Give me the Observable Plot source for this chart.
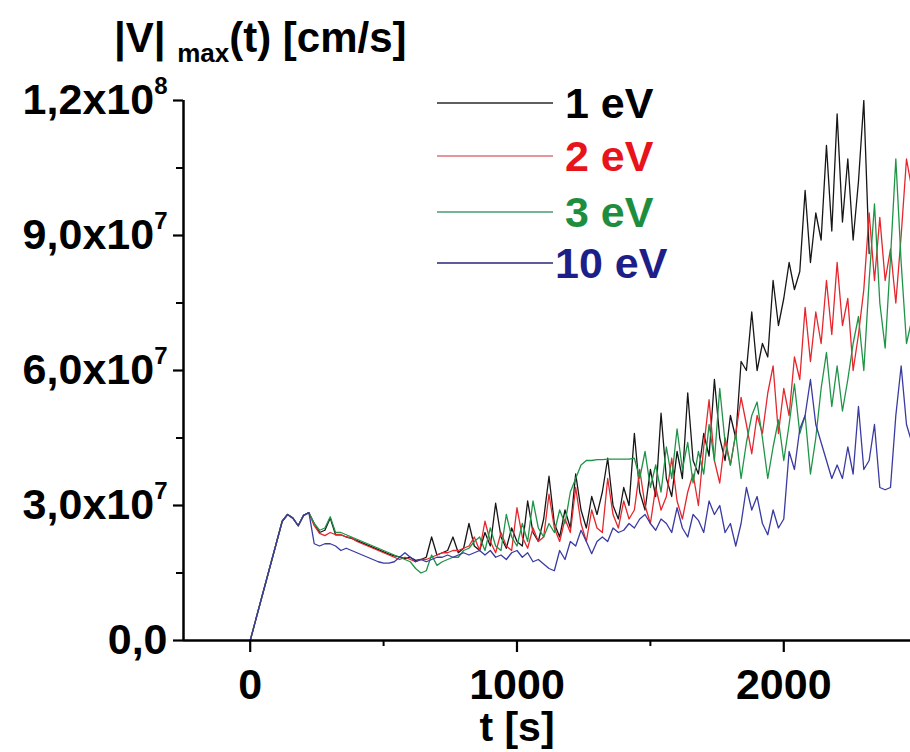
<!DOCTYPE html>
<html><head><meta charset="utf-8">
<script src="https://cdn.jsdelivr.net/npm/d3@7"></script>
<script src="https://cdn.jsdelivr.net/npm/@observablehq/plot@0.6"></script>
<style>
body{margin:0;background:#fff;font-family:"Liberation Sans",Arial,Helvetica,sans-serif;}
#wrap{position:relative;width:910px;height:752px;overflow:hidden;background:#fff;}
#head{display:block;}
#chart{position:absolute;left:0;top:60px;}
#chart svg{overflow:visible;}
#over{position:absolute;left:0;top:0;pointer-events:none;}
</style>
</head><body>
<div id="wrap">
<svg id="head" width="910" height="60" font-family="Liberation Sans, Arial, Helvetica, sans-serif" font-weight="bold"></svg>
<div id="chart"></div>
<svg id="over" width="910" height="752" font-family="Liberation Sans, Arial, Helvetica, sans-serif" font-weight="bold">
  <text x="114" y="52" font-size="42">|V| <tspan font-size="26" dy="10">max</tspan><tspan dy="-10">(t) [cm/s]</tspan></text>
</svg>
</div>
<script>
// time grid [s]
const times = [
  0, 120, 140, 160, 180, 200, 220, 240, 260, 280,
  300, 320, 340, 360, 380, 400, 420, 440, 460, 480,
  500, 520, 540, 560, 580, 600, 620, 640, 660, 680,
  700, 720, 740, 760, 780, 800, 820, 840, 860, 880,
  900, 920, 940, 960, 980, 1000, 1020, 1040, 1060, 1080,
  1100, 1120, 1140, 1160, 1180, 1200, 1220, 1240, 1260, 1280,
  1300, 1320, 1340, 1360, 1380, 1400, 1420, 1440, 1460, 1480,
  1500, 1520, 1540, 1560, 1580, 1600, 1620, 1640, 1660, 1680,
  1700, 1720, 1740, 1760, 1780, 1800, 1820, 1840, 1860, 1880,
  1900, 1920, 1940, 1960, 1980, 2000, 2020, 2040, 2060, 2080,
  2100, 2120, 2140, 2160, 2180, 2200, 2220, 2240, 2260, 2280,
  2300, 2320, 2340, 2360, 2380, 2400, 2420, 2440, 2460, 2475
];
// |V|max in units of 1e7 cm/s
const v1eV = [
  0, 2.65, 2.8, 2.72, 2.55, 2.78, 2.84, 2.6, 2.4, 2.45,
  2.72, 2.35, 2.35, 2.3, 2.27, 2.22, 2.17, 2.12, 2.07, 2.02,
  1.97, 1.92, 1.88, 1.86, 1.82, 1.85, 1.78, 1.8, 1.85, 2.3,
  1.9, 1.95, 2.0, 2.3, 1.95, 2.05, 2.6, 2.1, 2.0, 2.4,
  2.1, 3.05, 2.3, 2.05, 2.5, 2.2, 2.1, 3.1, 2.4, 2.2,
  2.7, 3.65, 2.6, 2.3, 2.9, 2.5, 3.7, 2.9, 2.5, 3.2,
  2.8, 3.3, 4.05, 3.0, 2.7, 3.4, 3.0, 4.6, 3.3, 2.9,
  3.8, 3.2, 5.05, 3.6, 3.2, 4.2, 3.6, 5.5, 4.0, 3.7,
  4.6, 4.1, 5.8, 4.5, 4.0, 5.0, 4.5, 6.2, 6.0, 7.3,
  6.0, 6.6, 6.3, 8.0, 7.0, 7.6, 8.4, 7.8, 8.2, 10.0,
  8.4, 9.5, 8.9, 11.0, 9.1, 11.7, 9.3, 10.7, 8.9, 10.2,
  12.0, 8.6, null, null, null, null, null, null, null, null
];
const v2eV = [
  0, 2.65, 2.8, 2.72, 2.55, 2.78, 2.84, 2.55, 2.38, 2.33,
  2.4, 2.35, 2.35, 2.3, 2.28, 2.2, 2.15, 2.1, 2.05, 2.0,
  1.95, 1.9, 1.85, 1.8, 1.85, 1.8, 1.75, 1.8, 1.8, 1.85,
  1.9, 1.95, 1.95, 2.0, 2.0, 2.05, 2.1, 2.3, 2.0, 2.65,
  2.2, 1.95, 2.4, 2.1, 2.0, 2.95, 2.3, 2.05, 2.5, 2.2,
  2.3, 3.25, 2.5, 2.2, 2.7, 2.4, 3.4, 2.6, 2.2, 2.9,
  2.5, 2.4, 3.6, 2.8, 2.5, 3.1, 2.7, 2.9, 3.8, 3.0,
  2.6, 3.4, 2.9, 3.2, 4.05, 3.1, 2.7, 3.3, 3.7, 3.0,
  4.3, 5.35, 4.0, 3.5, 4.5, 3.9, 4.6, 5.4, 4.8, 4.15,
  5.0, 4.6, 5.5, 6.1, 4.6, 5.6, 5.0, 6.3, 5.8, 7.4,
  6.2, 7.3, 6.6, 8.0, 6.8, 8.4, 7.0, 7.6, 6.0, 6.8,
  7.8, 9.5, 8.0, 9.4, 8.0, 8.7, 7.5, 9.0, 10.7, 10.2
];
const v3eV = [
  0, 2.65, 2.8, 2.72, 2.55, 2.78, 2.84, 2.6, 2.45, 2.5,
  2.75, 2.4, 2.4, 2.35, 2.3, 2.25, 2.2, 2.15, 2.1, 2.05,
  2.0, 1.95, 1.9, 1.85, 1.8, 1.75, 1.6, 1.5, 1.55, 1.9,
  1.67, 1.75, 1.8, 1.85, 1.85, 2.0, 2.05, 2.2, 2.3, 2.0,
  2.5, 2.1, 2.0, 2.8, 2.3, 2.1, 2.6, 2.2, 3.1, 2.5,
  2.3, 2.6, 2.4, 2.9, 2.6, 3.3, 3.6, 3.9, 4.0, 4.0,
  4.02, 4.02, 4.03, 4.03, 4.03, 4.03, 4.03, 4.05, 3.6, 4.2,
  3.4, 3.9, 3.3, 4.3, 3.6, 4.7, 3.8, 4.4, 3.5, 4.2,
  3.7, 4.8, 4.0, 5.6, 4.4, 3.9, 4.6, 3.6, 4.4, 5.0,
  5.3, 4.5, 3.6, 4.3, 4.9, 4.0, 4.8, 5.7, 4.6, 5.0,
  3.7, 4.5, 5.6, 6.4, 5.2, 6.1, 5.1, 5.8, 6.6, 7.2,
  6.0, 8.0, 9.7, 7.5, 6.5, 8.5, 10.7, 8.4, 6.6, 7.0
];
const v10eV = [
  0, 2.65, 2.8, 2.72, 2.55, 2.78, 2.84, 2.15, 2.1, 2.15,
  2.15, 2.1, 2.0, 2.05, 2.0, 1.95, 1.9, 1.85, 1.8, 1.75,
  1.72, 1.72, 1.75, 1.85, 1.95, 1.85, 1.75, 1.8, 1.75, 1.8,
  1.85, 1.85, 1.9, 1.85, 1.9, 1.95, 1.9, 1.95, 2.0, 1.9,
  2.0, 1.85, 1.9, 1.8, 1.95, 2.0, 1.85, 1.95, 1.75, 1.8,
  1.7, 1.6, 1.55, 2.0, 1.8, 2.2, 2.1, 2.45, 2.2, 1.93,
  2.2, 2.3, 2.2, 2.5, 2.4, 2.45, 2.6, 2.5, 2.7, 2.8,
  2.6, 2.45, 2.7, 2.6, 2.4, 2.95, 2.5, 2.3, 2.8, 2.67,
  2.4, 3.1, 2.8, 3.0, 2.4, 2.6, 2.1, 2.6, 3.4, 2.9,
  3.2, 2.6, 2.35, 2.9, 2.5, 2.7, 4.2, 3.8, 4.7, 5.0,
  5.8, 4.8, 4.4, 4.0, 3.6, 3.9, 3.6, 4.3, 3.7, 5.2,
  3.8, 4.0, 4.8, 3.4, 3.35, 3.4, 5.0, 6.1, 4.8, 4.5
];
const seriesNames = ["1 eV", "2 eV", "3 eV", "10 eV"];
const seriesValues = [v1eV, v2eV, v3eV, v10eV];
const lineColors = ["#161616", "#e6262c", "#1f9447", "#3a3aa2"];
const textColors = ["#000000", "#e8141c", "#1e8e3e", "#1e1e88"];
const legendLineColors = ["#2a2a2a", "#e0707c", "#4a9a72", "#26267a"];
const yTicks = [0, 3, 6, 9, 12];
const yTickLabels = ["0,0", "3,0x10^7", "6,0x10^7", "9,0x10^7", "1,2x10^8"];
const yMinor = [1.5, 4.5, 7.5, 10.5];
const xTicks = [0, 1000, 2000];
const xMinor = [500, 1500];

const rows = [];
seriesNames.forEach((name, s) => {
  seriesValues[s].forEach((v, i) => {
    if (v != null && i < times.length) rows.push({t: times[i], v, name});
  });
});

const font = "Liberation Sans, Arial, Helvetica, sans-serif";
const chart = Plot.plot({
  width: 910,
  height: 692,
  marginTop: 40,
  marginBottom: 112,
  marginLeft: 183,
  marginRight: 0,
  style: {fontFamily: font, fontSize: "43px", fontWeight: "bold", background: "transparent", color: "black", overflow: "visible"},
  x: {domain: [-250, 2475]},
  y: {domain: [0, 12]},
  color: {domain: seriesNames, range: lineColors},
  marks: [
    Plot.line(rows, {x: "t", y: "v", z: "name", stroke: "name", strokeWidth: 1.3, clip: true}),
    Plot.ruleY([0], {strokeWidth: 2.5}),
    Plot.ruleX([-250], {strokeWidth: 2.5}),
    Plot.axisY(yTicks, {tickSize: 10, tickPadding: 6, strokeWidth: 2.2, label: null,
      tickFormat: d => yTickLabels[yTicks.indexOf(d)], fontSize: 43, fontWeight: "bold"}),
    Plot.axisY(yMinor, {tickSize: 7, strokeWidth: 2, label: null, tickFormat: () => ""}),
    Plot.axisX(xTicks, {tickSize: 12, tickPadding: 16, strokeWidth: 2.2, label: null,
      tickFormat: d => String(d), fontSize: 43, fontWeight: "bold"}),
    Plot.axisX(xMinor, {tickSize: 6, strokeWidth: 2, label: null, tickFormat: () => ""})
  ]
});
document.getElementById("chart").appendChild(chart);

// superscripts in y tick labels
d3.select(chart).selectAll("text").each(function() {
  const s = this.textContent;
  if (s.includes("^")) {
    const [a, b] = s.split("^");
    const t = d3.select(this);
    t.text(null);
    t.append("tspan").text(a);
    t.append("tspan").attr("font-size", 24).attr("dy", -20).text(b);
  }
});

// legend + x label overlay
const over = d3.select("#over");
const legY = [103, 156, 212, 263];
const legTextX = [565, 565, 565, 555];
seriesNames.forEach((name, i) => {
  over.append("line").attr("x1", 437).attr("x2", 553).attr("y1", legY[i]).attr("y2", legY[i])
    .attr("stroke", legendLineColors[i]).attr("stroke-width", 1.6);
  over.append("text").attr("x", legTextX[i]).attr("y", legY[i]).attr("dy", "0.36em")
    .attr("font-size", 43).attr("fill", textColors[i]).text(name);
});
over.append("text").attr("x", 517).attr("y", 741).attr("text-anchor", "middle")
  .attr("font-size", 41).attr("fill", "black").text("t [s]");
</script>
</body></html>
